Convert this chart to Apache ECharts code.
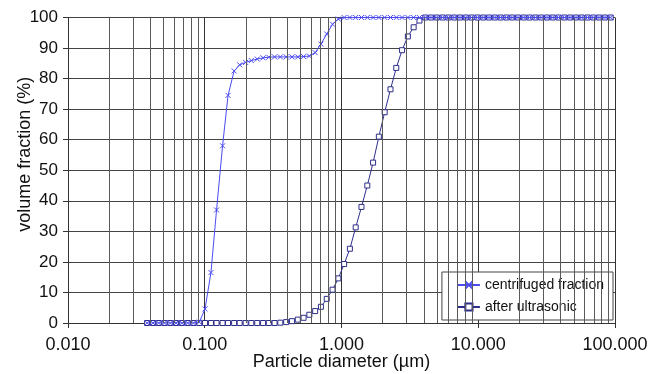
<!DOCTYPE html>
<html>
<head>
<meta charset="utf-8">
<script src="https://cdn.jsdelivr.net/npm/echarts@6/dist/echarts.min.js"></script>
<style>
  html, body { margin: 0; padding: 0; background: #fff; }
  #chart { width: 652px; height: 374px; }
</style>
</head>
<body>
<div id="chart"></div>
<script>
// particle diameters (µm) of the size classes
const diameters = [
  0.0379, 0.0418, 0.046, 0.0508, 0.056, 0.0617, 0.068, 0.075, 0.0827, 0.0912,
  0.1005, 0.111, 0.122, 0.135, 0.148, 0.164, 0.180, 0.199, 0.219, 0.242,
  0.267, 0.294, 0.324, 0.357, 0.394, 0.434, 0.479, 0.528, 0.582, 0.642,
  0.707, 0.780, 0.860, 0.948, 1.045, 1.152, 1.270, 1.400, 1.544, 1.702,
  1.876, 2.069, 2.281, 2.515, 2.773, 3.057, 3.370, 3.716, 4.097, 4.517,
  4.980, 5.490, 6.053, 6.673, 7.357, 8.112, 8.943, 9.860, 10.87, 11.98,
  13.21, 14.57, 16.06, 17.71, 19.52, 21.52, 23.73, 26.16, 28.84, 31.80,
  35.06, 38.65, 42.62, 46.98, 51.80, 57.11, 62.96, 69.42, 76.53, 84.38,
  93.03
];

// cumulative volume fraction (%)
const centrifuged = [
  0, 0, 0, 0, 0, 0, 0, 0, 0, 0.3,
  4.6, 16.5, 37, 58, 74.5, 82.5, 84.5, 85.3, 85.9, 86.4,
  86.8, 87.0, 87.1, 87.1, 87.1, 87.1, 87.1, 87.2, 87.4, 88.5,
  91.3, 94.6, 97.8, 99.5, 100, 100, 100, 100, 100, 100,
  100, 100, 100, 100, 100, 100, 100, 100, 100, 100,
  100, 100, 100, 100, 100, 100, 100, 100, 100, 100,
  100, 100, 100, 100, 100, 100, 100, 100, 100, 100,
  100, 100, 100, 100, 100, 100, 100, 100, 100, 100,
  100
];

const ultrasonic = [
  0, 0, 0, 0, 0, 0, 0, 0, 0, 0,
  0, 0, 0, 0, 0, 0, 0, 0, 0, 0,
  0, 0, 0, 0.1, 0.3, 0.6, 1.1, 1.7, 2.7, 3.9,
  5.3, 7.9, 10.9, 14.6, 19.3, 24.3, 31.3, 38.0, 45.0, 52.5,
  61.0, 69.0, 76.5, 83.5, 89.3, 93.8, 96.8, 99.0, 100, 100,
  100, 100, 100, 100, 100, 100, 100, 100, 100, 100,
  100, 100, 100, 100, 100, 100, 100, 100, 100, 100,
  100, 100, 100, 100, 100, 100, 100, 100, 100, 100,
  100
];

const decades = [0.01, 0.1, 1, 10];
const yTicks = [0, 10, 20, 30, 40, 50, 60, 70, 80, 90, 100];

// minor vertical grid lines 2..9 in every decade
const minorLines = [];
decades.forEach(d => {
  for (let m = 2; m <= 9; m++) minorLines.push({ xAxis: +(d * m).toPrecision(3) });
});

const font = "'Liberation Sans', Arial, Helvetica, sans-serif";
const crossIcon = 'path://M0,0L10,10M10,0L0,10';

const chart = echarts.init(document.getElementById('chart'));
chart.setOption({
  animation: false,
  textStyle: { fontFamily: font },
  grid: { left: 68, right: 37, top: 17.5, bottom: 51, outerBoundsMode: 'none', containLabel: false },
  legend: {
    orient: 'vertical',
    right: 39,
    bottom: 54,
    backgroundColor: '#fff',
    borderColor: '#444',
    borderWidth: 1,
    borderRadius: 0,
    padding: [6, 9, 6, 15],
    itemGap: 8,
    itemWidth: 22,
    itemHeight: 9,
    textStyle: { fontFamily: font, fontSize: 14, color: '#111' },
    data: ['centrifuged fraction', 'after ultrasonic']
  },
  xAxis: {
    type: 'log',
    logBase: 10,
    min: 0.01,
    max: 100,
    name: 'Particle diameter (µm)',
    nameLocation: 'middle',
    nameGap: 30,
    nameMoveOverlap: false,
    nameTextStyle: { fontFamily: font, fontSize: 18, color: '#111' },
    axisLine: { show: true, lineStyle: { color: '#333', width: 1 } },
    axisTick: { show: true, length: 5, lineStyle: { color: '#333' } },
    axisLabel: {
      fontFamily: font, fontSize: 18, color: '#111', margin: 13,
      formatter: v => v.toFixed(3)
    },
    splitLine: { show: true, lineStyle: { color: '#333', width: 1 } }
  },
  yAxis: {
    type: 'value',
    min: yTicks[0],
    max: yTicks[yTicks.length - 1],
    interval: 10,
    name: 'volume fraction (%)',
    nameLocation: 'middle',
    nameGap: 34,
    nameMoveOverlap: false,
    nameTextStyle: { fontFamily: font, fontSize: 18, color: '#111', padding: [0, 0, 0, 32] },
    axisLine: { show: true, lineStyle: { color: '#333', width: 1 } },
    axisTick: { show: true, length: 5, lineStyle: { color: '#333' } },
    axisLabel: { fontFamily: font, fontSize: 17, color: '#111', margin: 10 },
    splitLine: { show: true, lineStyle: { color: '#444', width: 1 } }
  },
  series: [
    {
      // minor grid lines only
      type: 'line',
      data: [],
      z: 1,
      silent: true,
      markLine: {
        silent: true,
        symbol: 'none',
        label: { show: false },
        lineStyle: { type: 'solid', color: '#5a5a5a', width: 1 },
        data: minorLines
      }
    },
    {
      name: 'centrifuged fraction',
      type: 'line',
      z: 4,
      data: diameters.map((d, i) => [d, centrifuged[i]]),
      symbol: crossIcon,
      symbolSize: 5,
      showAllSymbol: true,
      lineStyle: { color: '#4b4bf0', width: 1 },
      itemStyle: { color: '#4b4bf0', borderColor: '#4b4bf0', borderWidth: 1 }
    },
    {
      name: 'after ultrasonic',
      type: 'line',
      z: 3,
      data: diameters.map((d, i) => [d, ultrasonic[i]]),
      symbol: 'rect',
      symbolSize: 5,
      showAllSymbol: true,
      lineStyle: { color: '#2e2e8a', width: 1 },
      itemStyle: { color: '#fff', borderColor: '#2e2e8a', borderWidth: 1 }
    }
  ]
});
</script>
</body>
</html>
